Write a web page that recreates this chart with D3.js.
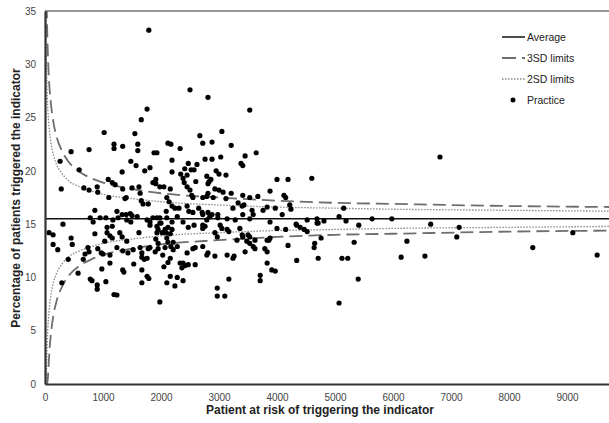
<!DOCTYPE html>
<html>
<head>
<meta charset="utf-8">
<script src="https://d3js.org/d3.v7.min.js"></script>
<style>
body { margin: 0; background: #fff; }
svg { display: block; font-family: "Liberation Sans", Arial, sans-serif; }
</style>
</head>
<body>
<div id="chart"></div>
<script>
// average rate (%) and axis ticks
const average = 15.5;
const xTicks = [0, 1000, 2000, 3000, 4000, 5000, 6000, 7000, 8000, 9000];
const yTicks = [0, 5, 10, 15, 20, 25, 30, 35];

// control limits read along the funnel
const limitN = [10, 20, 30, 40, 60, 80, 100, 150, 200, 300, 400, 600, 800, 1000, 1500, 2000, 3000, 4000, 5000, 6000, 8000, 10000];
const upper3 = [49.8, 39.8, 35.3, 32.7, 29.5, 27.6, 26.4, 24.4, 23.2, 21.8, 20.9, 19.9, 19.3, 18.9, 18.3, 17.9, 17.5, 17.2, 17.0, 16.9, 16.7, 16.6];
const lower3 = [0, 0, 0, 0, 1.5, 3.4, 4.6, 6.6, 7.8, 9.2, 10.1, 11.1, 11.7, 12.1, 12.7, 13.1, 13.5, 13.8, 14.0, 14.1, 14.3, 14.4];
const upper2 = [38.4, 31.7, 28.7, 26.9, 24.8, 23.6, 22.7, 21.4, 20.6, 19.7, 19.1, 18.5, 18.1, 17.8, 17.4, 17.1, 16.8, 16.6, 16.5, 16.4, 16.3, 16.2];
const lower2 = [0, 0, 2.3, 4.1, 6.2, 7.4, 8.3, 9.6, 10.4, 11.3, 11.9, 12.5, 12.9, 13.2, 13.6, 13.9, 14.2, 14.4, 14.5, 14.6, 14.7, 14.8];

// practices: [patients at risk, % triggered]
const practices = [
  [1790,33.2],[2500,27.6],[2810,26.9],[3530,25.7],[1760,25.8],[1660,24.8],[1020,23.6],[1550,23.5],[2670,23.3],[3050,23.7],
  [2120,22.6],[2170,22.5],[2720,22.6],[2880,22.7],[3210,22.4],[1190,22.5],[1190,22.1],[1340,22.3],[1600,22.5],[1600,21.9],
  [760,22.0],[450,21.8],[1880,21.7],[1930,21.7],[2330,22.1],[3640,21.7],[3450,21.4],[2190,21.0],[2760,21.1],[2880,21.1],
  [3030,21.3],[1480,20.9],[1570,20.5],[2470,20.7],[2620,20.6],[3380,20.7],[3410,20.5],[260,20.9],[1810,20.3],[1720,20.0],
  [1330,19.9],[2190,19.9],[2410,20.2],[2520,20.1],[2570,20.1],[590,20.1],[2950,20.0],[3000,19.7],[2790,19.5],[2860,19.2],
  [2830,19.0],[2810,18.8],[3120,19.6],[2340,19.7],[2450,19.6],[2380,19.3],[1910,19.2],[4000,19.2],[4190,19.2],[4600,19.3],
  [1860,18.9],[1910,18.8],[1980,18.5],[2050,18.5],[2160,18.3],[1090,19.2],[1160,18.9],[1210,18.7],[2600,19.0],[2400,18.9],
  [2450,18.5],[2500,18.2],[2530,17.7],[2930,18.3],[3000,18.2],[3070,18.0],[3210,17.9],[3880,18.1],[2810,17.9],[2790,17.6],
  [3410,17.7],[3530,17.5],[3670,17.6],[4120,17.7],[4150,17.5],[280,18.3],[670,18.4],[760,18.2],[900,18.5],[910,18.0],
  [1100,17.5],[1340,18.3],[1400,17.5],[1500,18.4],[1620,18.5],[1640,17.9],[2550,17.5],[2720,17.5],[2900,17.5],[3120,17.4],
  [2100,17.5],
  [1660,17.2],[1690,16.9],[1780,16.9],[2140,17.1],[2190,16.7],[2240,16.5],[2310,16.5],[2450,16.7],[2480,16.2],[2550,16.1],
  [2650,16.5],[2710,16.1],[2720,15.9],[2810,16.1],[2880,15.9],[2840,15.7],[2980,15.9],[3330,17.0],[3400,16.7],[3430,16.8],
  [3240,16.5],[3760,16.3],[3830,16.6],[3970,16.5],[4090,15.9],[4220,16.8],[4240,16.4],[3570,16.3],[3590,15.9],[3410,15.9],
  [860,16.3],[1240,16.2],[1330,15.9],[1400,15.9],[1470,16.0],[1500,15.8],[1590,15.7],[2090,16.2],[1380,17.4],[5150,16.5],
  [780,15.6],[830,15.2],[950,15.6],[1050,15.6],[1170,15.4],[1260,15.6],[1410,15.4],[1480,15.2],[1760,15.4],[1810,15.2],
  [1860,15.6],[1930,15.6],[1980,15.6],[2000,15.1],[2100,15.6],[2190,15.2],[2280,15.7],[2380,15.2],[2570,14.9],[2790,15.4],
  [2980,15.6],[3140,15.5],[3280,15.4],[3530,15.5],[3880,15.2],[4330,15.0],[4520,15.4],[4690,15.5],[310,15.0],[4710,15.1],
  [4810,15.3],[5070,15.7],[5190,15.3],[5410,14.9],[5640,15.5],[5980,15.5],[6650,15.0],[7140,14.7],
  [70,14.2],[140,14.0],[140,13.1],[220,12.6],[450,13.7],[470,13.1],[400,11.7],[740,12.8],[760,12.4],[660,11.7],
  [910,12.7],[970,12.3],[1000,12.2],[1240,12.8],[1340,12.5],[1430,12.3],[1620,14.2],[1670,12.3],[1710,11.7],[1760,11.8],
  [1070,14.2],[1120,13.9],[1160,13.7],[1030,13.4],[1290,14.2],[1330,13.8],[1410,13.4],[860,14.1],[1930,14.8],[1950,14.5],
  [1930,14.2],[2020,14.2],[2090,14.2],[2100,13.7],[2190,14.5],[2120,13.3],[1810,12.8],[1780,12.7],[1900,12.4],[1950,12.7],
  [2070,12.8],[2170,12.9],[2210,12.6],[2280,12.9],[2450,12.3],[2550,12.7],[2120,14.7],[2470,14.7],[1160,14.8],[1070,14.7],
  [1810,14.9],[1980,15.1],[2070,14.5],[2160,14.1],[2210,13.3],[1910,13.6],[1950,13.2],[690,12.2],[1120,12.1],[1520,12.6],
  [1640,12.8],[1670,11.9],[2030,12.1],[2160,11.8],
  [2720,14.9],[2760,14.8],[3020,14.9],[3050,14.6],[2930,14.2],[2970,13.8],[3140,14.5],[3170,14.3],[3400,14.0],[3410,13.8],
  [3500,14.0],[3530,13.8],[3310,13.5],[3480,13.4],[3830,13.5],[3860,13.5],[4000,14.6],[4150,14.5],[4340,14.9],[4400,14.7],
  [4520,14.3],[4690,15.1],[4190,13.0],[4650,13.2],[4640,12.8],[4710,11.8],[3530,13.2],[3590,12.9],[3620,12.7],[3790,12.7],
  [3830,12.4],[3450,12.4],[3260,12.0],[3240,11.8],[3140,12.1],[2930,12.0],[2810,12.3],[2790,12.1],[2720,12.9],[2590,12.8],
  [3620,13.5],[3880,13.7],[4470,14.5],[4760,13.7],[5330,13.3],[6240,13.4],[7100,13.8],[5120,11.8],[5220,11.8],[6140,11.9],
  [6550,12.0],[9100,14.2],[8410,12.8],[9520,12.1],[2720,14.6],[3360,14.6],[6810,21.3],
  [290,9.5],[570,10.4],[780,9.85],[810,9.7],[900,9.3],[900,8.9],[1050,9.6],[1120,11.35],[980,10.8],[1190,8.4],
  [1240,8.35],[1340,10.7],[1360,10.5],[1530,11.26],[1670,10.7],[1760,10.1],[1790,9.9],[1670,9.5],[1980,7.7],[2120,11.4],
  [2050,11.0],[2330,11.35],[2380,11.35],[2410,11.1],[2360,10.9],[2470,11.2],[2590,11.2],[2160,10.1],[2280,10.0],[2380,9.7],
  [2100,9.5],[2240,9.2],[4340,11.6],[3830,11.35],[3910,10.7],[3970,10.6],[3710,10.2],[3710,9.7],[3170,9.85],[2970,9.0],
  [2970,8.25],[3100,8.25],[5400,9.85],[5070,7.6]
];

const legendLabels = ["Average", "3SD limits", "2SD limits", "Practice"];
const xTitle = "Patient at risk of triggering the indicator";
const yTitle = "Percentage of patients triggered the indicator";

const width = 609, height = 423;
const svg = d3.select("#chart").append("svg")
  .attr("width", width)
  .attr("height", height)
  .style("background", "#fff");

const x = d3.scaleLinear().domain([0, 10000]).range([45, 625]);
const y = d3.scaleLinear().domain([0, 35]).range([384, 11]);

svg.append("clipPath").attr("id", "plot-clip")
  .append("rect")
  .attr("x", x(0)).attr("y", y(35))
  .attr("width", x(10000) - x(0)).attr("height", y(0) - y(35));

// top border of the plot area
svg.append("line")
  .attr("x1", x(0)).attr("x2", x(10000))
  .attr("y1", y(35)).attr("y2", y(35))
  .attr("stroke", "#333").attr("stroke-width", 1.2);

const plot = svg.append("g").attr("clip-path", "url(#plot-clip)");

const lineOf = (vals) => d3.line()
  .x((d, i) => x(limitN[i]))
  .y(d => y(d))
  .curve(d3.curveMonotoneX)(vals);

// 2SD dotted
[upper2, lower2].forEach(vals => {
  plot.append("path")
    .attr("d", lineOf(vals))
    .attr("fill", "none")
    .attr("stroke", "#888")
    .attr("stroke-width", 1.3)
    .attr("stroke-dasharray", "1.5,1.5");
});
// 3SD dashed
[upper3, lower3].forEach(vals => {
  plot.append("path")
    .attr("d", lineOf(vals))
    .attr("fill", "none")
    .attr("stroke", "#6e6e6e")
    .attr("stroke-width", 1.8)
    .attr("stroke-dasharray", "13,6");
});
// average
plot.append("line")
  .attr("x1", x(0)).attr("x2", x(10000))
  .attr("y1", y(average)).attr("y2", y(average))
  .attr("stroke", "#111").attr("stroke-width", 1.5);

// practices
plot.selectAll(".dot")
  .data(practices)
  .enter().append("circle")
  .attr("class", "dot")
  .attr("cx", d => x(d[0]))
  .attr("cy", d => y(d[1]))
  .attr("r", 2.6)
  .attr("fill", "#000");

// axes
const xAxis = svg.append("g")
  .attr("transform", `translate(0,${y(0)})`)
  .call(d3.axisBottom(x).tickValues(xTicks).tickFormat(d3.format("d")).tickSize(0).tickPadding(10));
const yAxis = svg.append("g")
  .attr("transform", `translate(${x(0)},0)`)
  .call(d3.axisLeft(y).tickValues(yTicks).tickSize(0).tickPadding(9));
[xAxis, yAxis].forEach(g => {
  g.select(".domain").attr("stroke", "#333").attr("stroke-width", 2.2);
  g.selectAll("text")
    .attr("fill", "#444")
    .style("font-size", "10px")
    .style("font-family", '"Liberation Sans", Arial, sans-serif');
});

// axis titles
svg.append("text")
  .attr("x", 320).attr("y", 414)
  .attr("text-anchor", "middle")
  .style("font-size", "12px").style("font-weight", "bold")
  .attr("fill", "#222")
  .text(xTitle);
svg.append("text")
  .attr("transform", "translate(20,198) rotate(-90)")
  .attr("text-anchor", "middle")
  .style("font-size", "12px").style("font-weight", "bold")
  .attr("fill", "#222")
  .text(yTitle);

// legend
const legend = svg.append("g").attr("transform", "translate(502,37)");
const rows = legend.selectAll(".row")
  .data(legendLabels)
  .enter().append("g")
  .attr("class", "row")
  .attr("transform", (d, i) => `translate(0,${i * 21})`);
rows.append("text")
  .attr("x", 25).attr("y", 0)
  .attr("dy", "0.35em")
  .style("font-size", "10.5px")
  .attr("fill", "#222")
  .text(d => d);
rows.filter((d, i) => i < 3).append("line")
  .attr("x1", 0).attr("x2", 23)
  .attr("y1", 0).attr("y2", 0)
  .attr("stroke", (d, i) => ["#111", "#6e6e6e", "#888"][i])
  .attr("stroke-width", (d, i) => [1.5, 1.8, 1.3][i])
  .attr("stroke-dasharray", (d, i) => [null, "14,6", "1.5,1.5"][i]);
rows.filter((d, i) => i === 3).append("circle")
  .attr("cx", 11).attr("cy", 0).attr("r", 2.5).attr("fill", "#000");
</script>
</body>
</html>
